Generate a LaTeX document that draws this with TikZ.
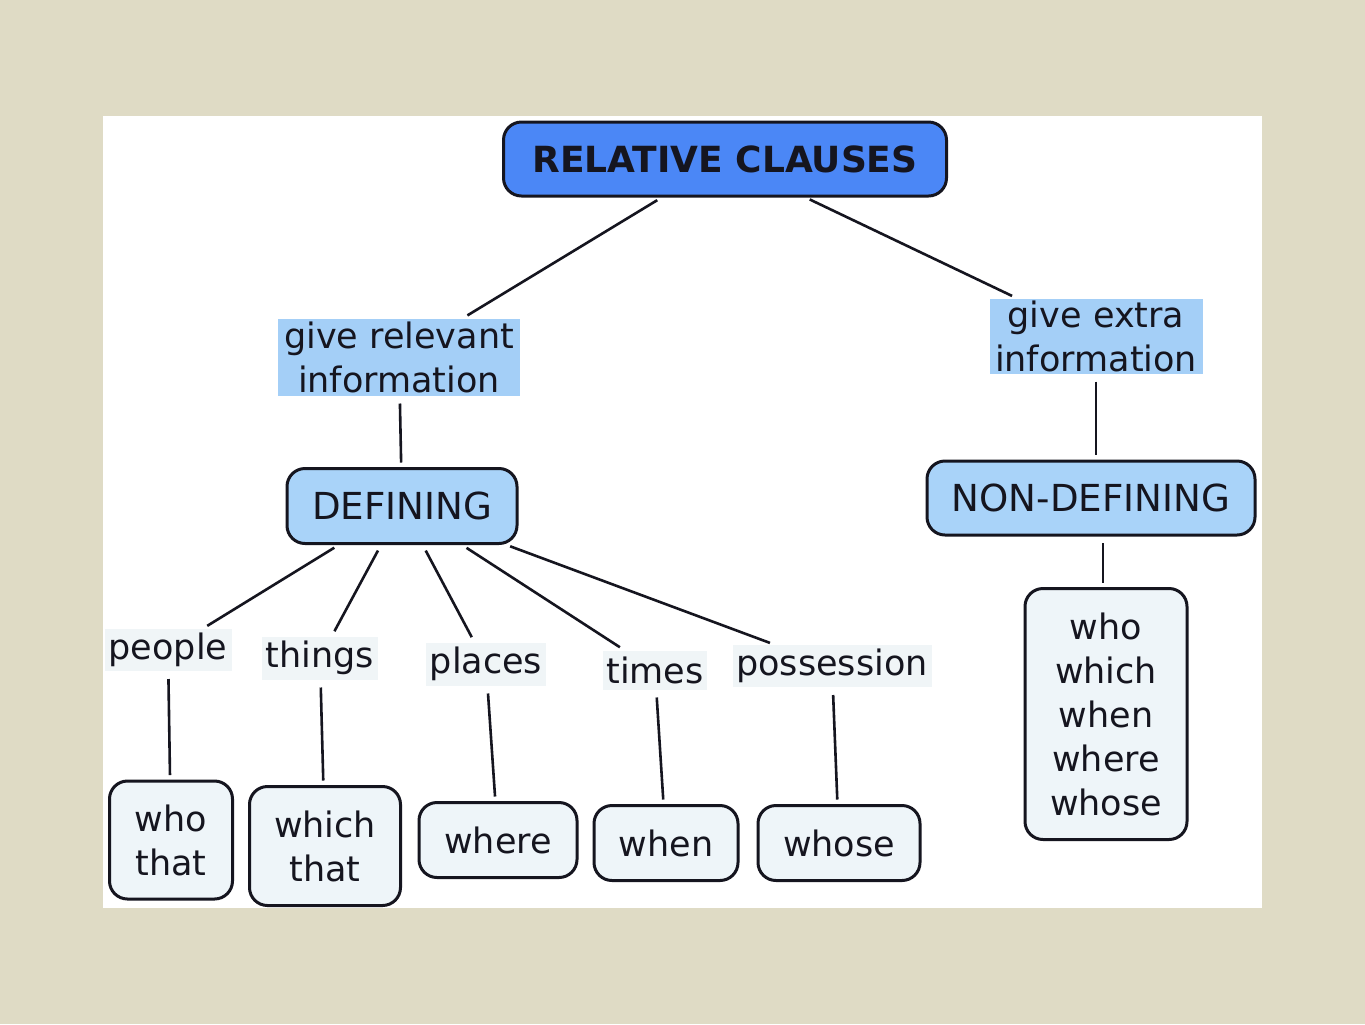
\documentclass[tikz,border=0pt]{standalone}
\usepackage{fontspec}
\setmainfont{DejaVu Sans}
\definecolor{paper}{HTML}{DFDBC5}
\definecolor{titleblue}{HTML}{4B87F6}
\definecolor{midblue}{HTML}{A9D3F9}
\definecolor{labelblue}{HTML}{A4CFF7}
\definecolor{leaffill}{HTML}{EEF5F9}
\definecolor{tagfill}{HTML}{F0F5F7}
\definecolor{ink}{HTML}{15151F}
\tikzset{
	box/.style = {draw = ink, line width = 1.5pt, rounded corners = 9pt, inner sep = 0pt, outer sep = 0pt, align = center, text = ink},
	titlebox/.style = {box, fill = titleblue, font = \bfseries\fontsize{18}{22}\selectfont},
	kindbox/.style = {box, fill = midblue, font = \fontsize{18.6}{22}\selectfont},
	leafbox/.style = {box, fill = leaffill, font = \fontsize{17.5}{22}\selectfont},
	infolabel/.style = {fill = labelblue, inner sep = 0pt, outer sep = 0pt, align = center, text = ink, font = \fontsize{17.5}{22}\selectfont},
	taglabel/.style = {fill = tagfill, inner sep = 0pt, outer sep = 0pt, text = ink, font = \fontsize{17.5}{22}\selectfont},
	link/.style = {draw = ink, line width = 1.3pt, shorten < = 4pt, shorten > = 3pt}
}
\begin{document}
\begin{tikzpicture}[x = 0.5pt, y = -0.5pt]
	% paper and white sheet
	\useasboundingbox (0,0) rectangle (1365,1024);
	\fill[paper] (0,0) rectangle (1365,1024);
	\fill[white] (103,116) rectangle (1262,908);
	
	% top
	\node[titlebox, minimum width = 221.5pt, minimum height = 37pt] (title) at (725,159) {RELATIVE CLAUSES};
	\node[infolabel, minimum width = 121pt, minimum height = 38.5pt] (relevant) at (399,357) {give relevant\\information};
	\node[infolabel, minimum width = 106.5pt, minimum height = 37.5pt] (extra) at (1096,336) {give extra\\information};
	\node[kindbox, minimum width = 115pt, minimum height = 37.5pt] (def) at (402,506) {DEFINING};
	\node[kindbox, minimum width = 164pt, minimum height = 37pt] (nondef) at (1091,498) {NON-DEFINING};
	
	% defining: what it refers to
	\node[taglabel, minimum width = 63.5pt, minimum height = 21pt] (people) at (168,650) {people};
	\node[taglabel, minimum width = 58pt, minimum height = 21.5pt] (things) at (320,658) {things};
	\node[taglabel, minimum width = 60pt, minimum height = 21.5pt] (places) at (486,664) {places};
	\node[taglabel, minimum width = 52pt, minimum height = 19.5pt] (times) at (655,670) {times};
	\node[taglabel, minimum width = 99.5pt, minimum height = 21pt] (possession) at (832,666) {possession};
	
	% pronouns
	\node[leafbox, minimum width = 61.5pt, minimum height = 59pt] (whothat) at (171,840) {who\\that};
	\node[leafbox, minimum width = 75.5pt, minimum height = 59.5pt] (whichthat) at (325,846) {which\\that};
	\node[leafbox, minimum width = 79pt, minimum height = 37.5pt] (where) at (498,840) {where};
	\node[leafbox, minimum width = 72pt, minimum height = 37.5pt] (when) at (666,843) {when};
	\node[leafbox, minimum width = 81pt, minimum height = 37.5pt] (whose) at (839,843) {whose};
	\node[leafbox, minimum width = 81pt, minimum height = 125.5pt] (allof) at (1106,714) {who\\which\\when\\where\\whose};
	\coordinate (drop) at (1103,714);
	
	% connectors
	\draw[link] (title) -- (relevant);
	\draw[link] (title) -- (extra);
	\draw[link] (relevant) -- (def);
	\draw[link] (extra) -- (extra |- nondef.north);
	\foreach \t in {people, things, places, times, possession} {
		\draw[link] (def) -- (\t);
	}
	\draw[link] (people) -- (whothat);
	\draw[link] (things) -- (whichthat);
	\draw[link] (places) -- (where);
	\draw[link] (times) -- (when);
	\draw[link] (possession) -- (whose);
	\draw[link] (drop |- nondef.south) -- (drop |- allof.north);
\end{tikzpicture}
\end{document}
